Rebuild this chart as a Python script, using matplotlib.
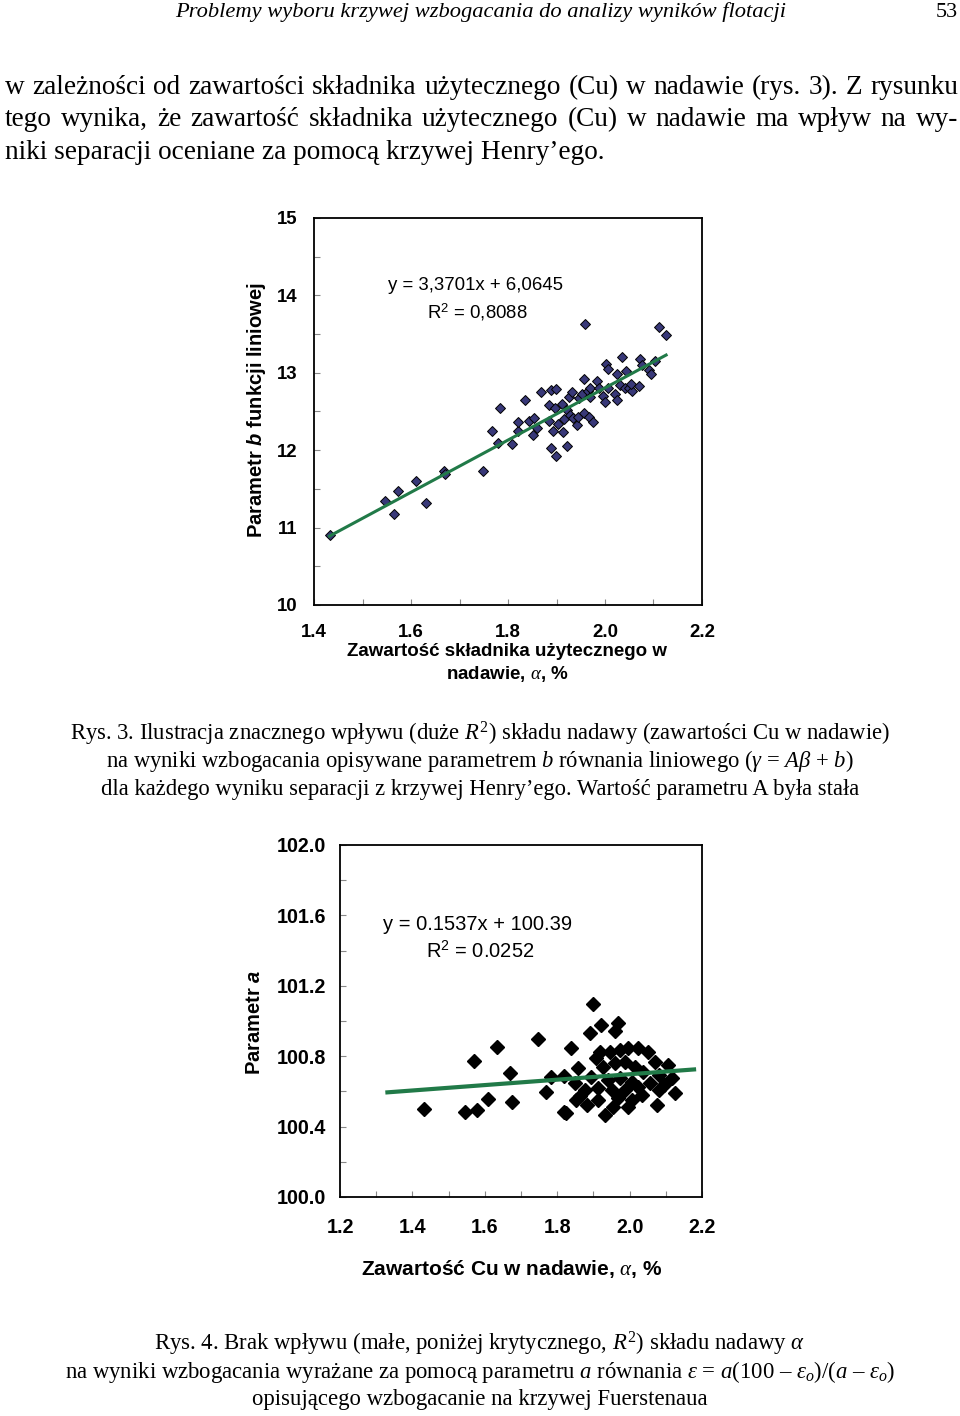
import matplotlib
matplotlib.use('Agg')
import matplotlib.pyplot as plt
from matplotlib.ticker import MultipleLocator, FormatStrFormatter

W, H = 960, 1416

plt.rcParams['font.family'] = 'Liberation Sans'
plt.rcParams['mathtext.fontset'] = 'custom'
plt.rcParams['mathtext.rm'] = 'Liberation Serif'
plt.rcParams['mathtext.it'] = 'Liberation Serif:italic'
plt.rcParams['mathtext.bf'] = 'Liberation Sans:bold'
plt.rcParams['mathtext.sf'] = 'Liberation Sans'
plt.rcParams['mathtext.bfit'] = 'Liberation Sans:bold:italic'

# rys. 3 - parametr b w funkcji zawartosci Cu
b_x = [1.432, 1.546, 1.565, 1.573, 1.610, 1.631, 1.669, 1.671, 1.748, 1.768,
       1.779, 1.784, 1.809, 1.820, 1.820, 1.835, 1.843, 1.851, 1.854, 1.859,
       1.869, 1.884, 1.884, 1.888, 1.889, 1.892, 1.899, 1.900, 1.896, 1.904,
       1.912, 1.914, 1.921, 1.915, 1.922, 1.926, 1.931, 1.928, 1.935, 1.943,
       1.945, 1.947, 1.953, 1.957, 1.959, 1.957, 1.964, 1.966, 1.970, 1.976,
       1.969, 1.983, 1.987, 1.995, 2.000, 2.003, 2.006, 2.007, 2.021, 2.025,
       2.025, 2.031, 2.035, 2.041, 2.043, 2.050, 2.055, 2.053, 2.071, 2.072,
       2.076, 2.091, 2.094, 2.104, 2.111, 2.126]
b_y = [10.90, 11.34, 11.17, 11.47, 11.60, 11.32, 11.73, 11.69, 11.73, 12.25,
       12.09, 12.54, 12.08, 12.25, 12.37, 12.65, 12.38, 12.20, 12.42, 12.29,
       12.75, 12.59, 12.38, 12.78, 12.03, 12.25, 11.92, 12.79, 12.54, 12.34,
       12.60, 12.24, 12.06, 12.40, 12.52, 12.69, 12.75, 12.45, 12.42, 12.32,
       12.43, 12.67, 12.72, 12.92, 13.63, 12.48, 12.77, 12.43, 12.69, 12.37,
       12.81, 12.89, 12.81, 12.70, 12.62, 13.11, 13.05, 12.80, 12.73, 12.65,
       12.99, 12.84, 13.21, 12.81, 13.02, 12.81, 12.77, 12.86, 12.83, 13.18,
       13.10, 13.04, 12.98, 13.15, 13.59, 13.49]
b_trend_x = [1.432, 2.126]
b_coef = [3.3701, 6.0645]

# rys. 4 - parametr a w funkcji zawartosci Cu
a_x = [1.431, 1.545, 1.578, 1.609, 1.674, 1.569, 1.633, 1.670, 1.746, 1.837,
       1.899, 1.922, 1.890, 1.969, 1.961, 1.857, 1.783, 1.820, 1.769, 1.848,
       1.862, 1.820, 1.881, 1.908, 1.918, 1.945, 1.973, 1.996, 2.024, 2.052,
       2.070, 2.107, 1.927, 1.959, 1.987, 2.015, 2.038, 2.080, 2.117, 1.894,
       1.941, 1.973, 2.006, 1.913, 1.950, 1.987, 2.024, 2.056, 2.094, 2.126,
       2.080, 1.876, 1.913, 1.969, 2.006, 2.033, 1.955, 1.996, 2.075, 1.931,
       1.853, 1.825]
a_y = [100.498, 100.485, 100.494, 100.555, 100.538, 100.775, 100.850, 100.706, 100.896, 100.845,
       101.097, 100.977, 100.930, 100.987, 100.945, 100.731, 100.680, 100.688, 100.598, 100.646,
       100.574, 100.485, 100.523, 100.788, 100.826, 100.826, 100.835, 100.845, 100.845, 100.826,
       100.769, 100.750, 100.740, 100.760, 100.769, 100.740, 100.712, 100.693, 100.674, 100.684,
       100.665, 100.674, 100.655, 100.618, 100.608, 100.608, 100.627, 100.646, 100.636, 100.589,
       100.608, 100.608, 100.551, 100.561, 100.551, 100.580, 100.513, 100.513, 100.523, 100.466,
       100.551, 100.475]
a_trend_x = [1.331, 2.178]
a_coef = [0.1537, 100.39]

header = 'Problemy wyboru krzywej wzbogacania do analizy wyników flotacji'
page_no = '53'
body = ['w zależności od zawartości składnika użytecznego (Cu) w nadawie (rys. 3). Z rysunku',
        'tego wynika, że zawartość składnika użytecznego (Cu) w nadawie ma wpływ na wy-',
        'niki separacji oceniane za pomocą krzywej Henry\u2019ego.']
caption3 = ['Rys. 3. Ilustracja znacznego wpływu (duże $R^{\\mathrm{2}}$) składu nadawy (zawartości Cu w nadawie)',
            'na wyniki wzbogacania opisywane parametrem $b$ równania liniowego ($\\gamma$ = $A\\beta$ + $b$)',
            'dla każdego wyniku separacji z krzywej Henry\u2019ego. Wartość parametru A była stała']
caption4 = ['Rys. 4. Brak wpływu (małe, poniżej krytycznego, $R^{\\mathrm{2}}$) składu nadawy $\\alpha$',
            'na wyniki wzbogacania wyrażane za pomocą parametru $a$ równania $\\varepsilon$ = $a$(100 \u2013 $\\varepsilon_o$)/($a$ \u2013 $\\varepsilon_o$)',
            'opisującego wzbogacanie na krzywej Fuerstenaua']


def P(x, y):
    return x / W, 1 - y / H


fig = plt.figure(figsize=(W / 100, H / 100), dpi=100)
renderer = fig.canvas.get_renderer()

serif = dict(family='Liberation Serif', color='black')

# naglowek strony
fig.text(*P(481, 17), header, ha='center', va='baseline', style='italic', fontsize=16.2, **serif)
fig.text(*P(958, 17), page_no, ha='right', va='baseline', fontsize=16, **serif)


def justify(line, ybase, x0, x1, size):
    words = line.split(' ')
    texts = [fig.text(*P(x0, ybase), w, va='baseline', fontsize=size, **serif) for w in words]
    widths = [t.get_window_extent(renderer).width for t in texts]
    gap = (x1 - x0 - sum(widths)) / (len(words) - 1)
    x = x0
    for t, w in zip(texts, widths):
        t.set_x(x / W)
        x += w + gap


justify(body[0], 94, 5, 958, 19.6)
justify(body[1], 126, 5, 958, 19.6)
fig.text(*P(5, 159), body[2], va='baseline', fontsize=19.6, **serif)

for line, yb in zip(caption3, [740, 767, 795]):
    fig.text(*P(480, yb), line, ha='center', va='baseline', fontsize=16.3, **serif)
for line, yb in zip(caption4, [1350, 1378, 1405]):
    fig.text(*P(480, yb), line, ha='center', va='baseline', fontsize=16.4, **serif)


def style_axes(ax, xmaj, xmin, ymaj, ymin, yfmt, xpad, ypad, size):
    for s in ax.spines.values():
        s.set_linewidth(1.3)
        s.set_color('black')
    ax.xaxis.set_major_locator(MultipleLocator(xmaj))
    ax.xaxis.set_minor_locator(MultipleLocator(xmin))
    ax.yaxis.set_major_locator(MultipleLocator(ymaj))
    ax.yaxis.set_minor_locator(MultipleLocator(ymin))
    ax.xaxis.set_major_formatter(FormatStrFormatter('%.1f'))
    ax.yaxis.set_major_formatter(FormatStrFormatter(yfmt))
    ax.tick_params(which='both', direction='in', length=4, width=0.8, color='#888888')
    ax.tick_params(axis='x', which='major', pad=xpad)
    ax.tick_params(axis='y', which='major', pad=ypad)
    for lab in ax.get_xticklabels() + ax.get_yticklabels():
        lab.set_fontweight('bold')
        lab.set_fontsize(size)


# wykres rys. 3
ax1 = fig.add_axes([314 / W, 1 - 605 / H, 388 / W, 387 / H])
ax1.plot(b_trend_x, [b_coef[0] * x + b_coef[1] for x in b_trend_x], color='#217a48', lw=2.2, zorder=3)
ax1.plot(b_x, b_y, 'D', ms=5.4, mfc='#383878', mec='black', mew=0.7, zorder=2)
ax1.set_xlim(1.4, 2.2)
ax1.set_ylim(10, 15)
style_axes(ax1, 0.2, 0.1, 1, 0.5, '%d', 14, 12, 13.4)
fig.text(*P(388, 286), 'y = 3,3701x + 6,0645', va='center', fontsize=13.4)
fig.text(*P(427, 312), 'R$^{\\mathsf{2}}$ = 0,8088', va='center', fontsize=13.4)
fig.text(*P(507, 651), 'Zawartość składnika użytecznego w', ha='center', va='center', fontsize=13.5, fontweight='bold')
fig.text(*P(507, 674), 'nadawie, $\\alpha$, %', ha='center', va='center', fontsize=13.5, fontweight='bold')
fig.text(*P(257, 410), 'Parametr $\\mathbfit{b}$ funkcji liniowej', rotation=90, ha='center', va='center',
         fontsize=14.5, fontweight='bold')

# wykres rys. 4
ax2 = fig.add_axes([340 / W, 1 - 1197 / H, 362 / W, 352 / H])
ax2.plot(a_trend_x, [a_coef[0] * x + a_coef[1] for x in a_trend_x], color='#217a48', lw=3, zorder=3)
ax2.plot(a_x, a_y, 'D', ms=7.6, mfc='black', mec='black', zorder=2)
ax2.set_xlim(1.2, 2.2)
ax2.set_ylim(100, 102)
style_axes(ax2, 0.2, 0.1, 0.4, 0.2, '%.1f', 15, 10, 14.2)
fig.text(*P(383, 924), 'y = 0.1537x + 100.39', va='center', fontsize=14.5)
fig.text(*P(426, 951), 'R$^{\\mathsf{2}}$ = 0.0252', va='center', fontsize=14.5)
fig.text(*P(512, 1269), 'Zawartość Cu w nadawie, $\\alpha$, %', ha='center', va='center', fontsize=15, fontweight='bold')
fig.text(*P(255, 1022), 'Parametr $\\mathbfit{a}$', rotation=90, ha='center', va='center',
         fontsize=14.5, fontweight='bold')

fig.savefig('out.png', dpi=100)
